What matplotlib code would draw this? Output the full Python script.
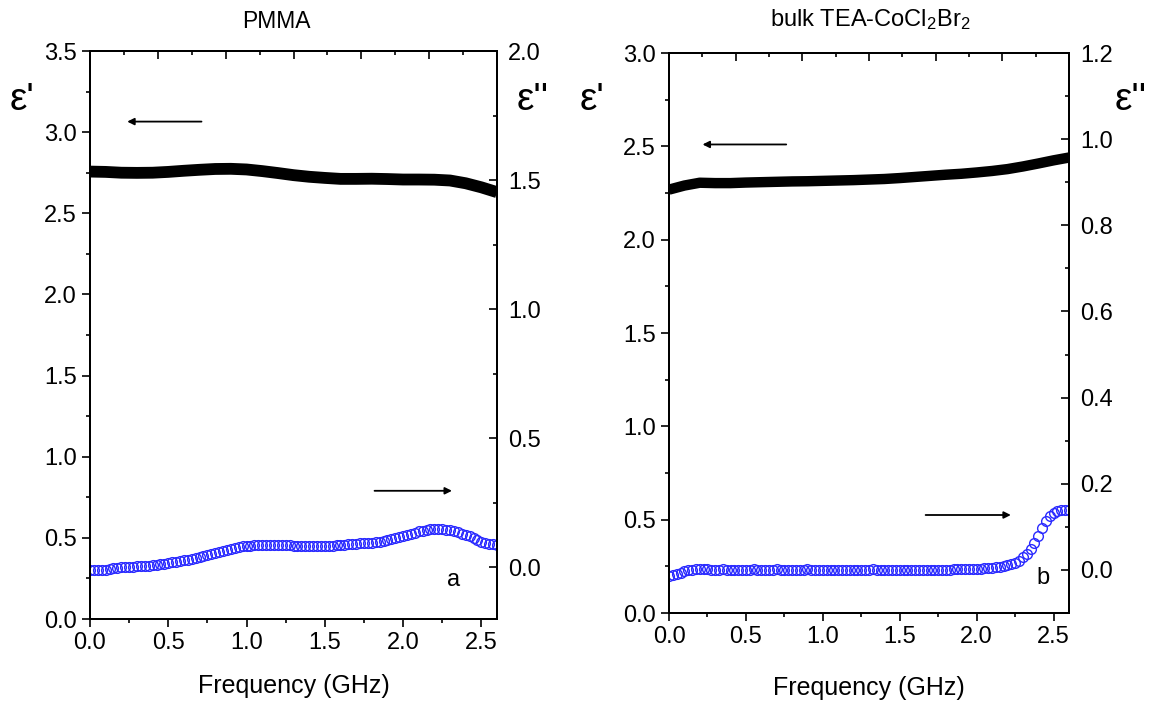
"""
Dielectric permittivity (real and imaginary part) vs frequency
for PMMA and bulk TEA-CoCl2Br2, two twin-axis panels.
"""

import numpy as np
import matplotlib
matplotlib.use("Agg")
import matplotlib.pyplot as plt
from matplotlib.ticker import MultipleLocator

plt.rcParams['font.family'] = ['Liberation Sans', 'DejaVu Sans']
plt.rcParams['mathtext.default'] = 'regular'

# ---- data ----
# eps' sampled every 0.1 GHz (thick black band)
freq_real = np.linspace(0.0, 2.6, 27)
pmma_real = [2.757, 2.755, 2.750, 2.749, 2.750, 2.755, 2.762, 2.768, 2.773,
             2.774, 2.770, 2.760, 2.748, 2.735, 2.725, 2.718, 2.712, 2.712,
             2.713, 2.711, 2.708, 2.708, 2.707, 2.702, 2.685, 2.660, 2.630]
tea_real = [2.268, 2.290, 2.305, 2.303, 2.303, 2.306, 2.308, 2.310, 2.312,
            2.313, 2.315, 2.317, 2.319, 2.322, 2.325, 2.330, 2.336, 2.342,
            2.348, 2.353, 2.360, 2.368, 2.378, 2.392, 2.408, 2.425, 2.440]

# eps'' sampled every 0.025 GHz (blue open circles)
freq_imag = np.linspace(0.0, 2.6, 105)
pmma_imag = [
    -0.012, -0.012, -0.011, -0.010, -0.009, -0.006, -0.003, -0.001, 0.000, 0.001,
    0.002, 0.003, 0.004, 0.005, 0.006, 0.007, 0.008, 0.010, 0.012, 0.014,
    0.016, 0.019, 0.021, 0.024, 0.027, 0.030, 0.033, 0.037, 0.040, 0.044,
    0.048, 0.051, 0.055, 0.060, 0.064, 0.069, 0.073, 0.076, 0.079, 0.081,
    0.082, 0.084, 0.085, 0.086, 0.087, 0.087, 0.088, 0.087, 0.087, 0.086,
    0.085, 0.085, 0.084, 0.083, 0.082, 0.082, 0.081, 0.081, 0.081, 0.082,
    0.082, 0.083, 0.084, 0.085, 0.086, 0.088, 0.089, 0.091, 0.092, 0.093,
    0.094, 0.095, 0.096, 0.098, 0.100, 0.103, 0.106, 0.110, 0.114, 0.118,
    0.122, 0.127, 0.131, 0.135, 0.139, 0.142, 0.145, 0.147, 0.148, 0.148,
    0.148, 0.146, 0.144, 0.140, 0.136, 0.131, 0.126, 0.120, 0.113, 0.106,
    0.100, 0.096, 0.092, 0.089, 0.087,
]
tea_imag = [
    -0.014, -0.012, -0.010, -0.006, -0.003, -0.001, 0.000, 0.001, 0.001, 0.001,
    0.001, 0.000, 0.000, 0.000, 0.001, 0.000, 0.000, 0.000, 0.000, 0.000,
    0.000, 0.000, 0.001, 0.000, 0.000, 0.000, 0.000, 0.000, 0.001, 0.000,
    0.000, 0.000, 0.000, 0.000, 0.000, 0.000, 0.001, 0.000, 0.000, 0.000,
    0.000, 0.000, 0.000, 0.000, -0.001, 0.000, 0.000, 0.000, 0.000, 0.000,
    0.000, 0.000, 0.000, 0.001, 0.000, 0.000, 0.000, 0.000, 0.000, 0.000,
    0.000, 0.000, 0.000, 0.000, 0.000, 0.000, 0.000, 0.000, 0.000, 0.000,
    0.000, 0.000, 0.000, 0.000, 0.001, 0.001, 0.001, 0.002, 0.002, 0.002,
    0.003, 0.003, 0.004, 0.004, 0.005, 0.006, 0.007, 0.009, 0.011, 0.013,
    0.016, 0.021, 0.029, 0.037, 0.048, 0.062, 0.079, 0.097, 0.114, 0.125,
    0.132, 0.136, 0.138, 0.138, 0.138,
]

titles = ["PMMA", "bulk TEA-CoCl$_2$Br$_2$"]
panel_tags = ["a", "b"]

BLUE = '#2a2aff'


def style_axes(ax, ax2, ax_top, left_step, right_step):
    """Origin-like ticks: left/bottom out, right/top in."""
    for a in (ax, ax2, ax_top):
        for s in a.spines.values():
            s.set_linewidth(1.3)
    ax.xaxis.set_major_locator(MultipleLocator(0.5))
    ax.xaxis.set_minor_locator(MultipleLocator(0.25))
    ax.yaxis.set_major_locator(MultipleLocator(left_step))
    ax.yaxis.set_minor_locator(MultipleLocator(left_step / 2))
    ax.tick_params(which='major', direction='out', length=6, width=1.2,
                   labelsize=17, top=False, right=False)
    ax.tick_params(which='minor', direction='out', length=3, width=1.2,
                   top=False, right=False)
    ax2.yaxis.set_major_locator(MultipleLocator(right_step))
    ax2.yaxis.set_minor_locator(MultipleLocator(right_step / 2))
    ax2.tick_params(which='major', direction='in', length=6, width=1.2,
                    labelsize=17, pad=8)
    ax2.tick_params(which='minor', direction='in', length=3, width=1.2)
    # top axis: 12 equal intervals, no labels
    ax_top.set_xlim(0, 12)
    ax_top.xaxis.set_major_locator(MultipleLocator(2))
    ax_top.xaxis.set_minor_locator(MultipleLocator(1))
    ax_top.tick_params(which='major', direction='in', length=6, width=1.2,
                       labeltop=False)
    ax_top.tick_params(which='minor', direction='in', length=3, width=1.2)


fig = plt.figure(figsize=(11.57, 7.06), dpi=100)
W, H = 1157, 706

# ---- left panel: PMMA ----
ax = fig.add_axes([90 / W, 1 - 619 / H, 407 / W, 568 / H])
ax2 = ax.twinx()
ax_top = ax.twiny()
ax.plot(freq_real, pmma_real, color='black', lw=8.5, solid_capstyle='butt')
ax2.plot(freq_imag, pmma_imag, 'o', mfc='none', mec=BLUE, ms=7, mew=1.0)
ax.set_xlim(0, 2.6)
ax.set_ylim(0, 3.5)
ax2.set_ylim(-0.2, 2.0)
style_axes(ax, ax2, ax_top, 0.5, 0.5)
ax.set_xlabel("Frequency (GHz)", fontsize=18, labelpad=14)
ax.annotate('', xy=(0.22, 3.065), xytext=(0.73, 3.065),
            arrowprops=dict(arrowstyle='-|>', color='black', lw=1.3,
                            mutation_scale=10))
ax.annotate('', xy=(2.33, 0.79), xytext=(1.80, 0.79),
            arrowprops=dict(arrowstyle='-|>', color='black', lw=1.3,
                            mutation_scale=10))
ax.text(2.32, 0.24, panel_tags[0], fontsize=17, ha='center', va='center')
fig.text(276 / W, 1 - 21 / H, titles[0], fontsize=16.5, ha='center', va='center')
fig.text(22 / W, 1 - 100 / H, "ε'", fontsize=28, ha='center', va='center')
fig.text(533 / W, 1 - 100 / H, "ε''", fontsize=28, ha='center', va='center')

# ---- right panel: bulk TEA-CoCl2Br2 ----
bx = fig.add_axes([669 / W, 1 - 613 / H, 400 / W, 560 / H])
bx2 = bx.twinx()
bx_top = bx.twiny()
bx.plot(freq_real, tea_real, color='black', lw=7.5, solid_capstyle='butt')
bx2.plot(freq_imag, tea_imag, 'o', mfc='none', mec=BLUE, ms=7, mew=1.0)
bx.set_xlim(0, 2.6)
bx.set_ylim(0, 3.0)
bx2.set_ylim(-0.1, 1.2)
style_axes(bx, bx2, bx_top, 0.5, 0.2)
bx.set_xlabel("Frequency (GHz)", fontsize=18, labelpad=20)
bx.annotate('', xy=(0.20, 2.51), xytext=(0.78, 2.51),
            arrowprops=dict(arrowstyle='-|>', color='black', lw=1.3,
                            mutation_scale=10))
bx.annotate('', xy=(2.24, 0.525), xytext=(1.65, 0.525),
            arrowprops=dict(arrowstyle='-|>', color='black', lw=1.3,
                            mutation_scale=10))
bx.text(2.43, 0.19, panel_tags[1], fontsize=17, ha='center', va='center')
fig.text(870 / W, 1 - 20 / H, titles[1], fontsize=17, ha='center', va='center')
fig.text(592 / W, 1 - 100 / H, "ε'", fontsize=28, ha='center', va='center')
fig.text(1131 / W, 1 - 100 / H, "ε''", fontsize=28, ha='center', va='center')

fig.savefig("out.png", dpi=100)
